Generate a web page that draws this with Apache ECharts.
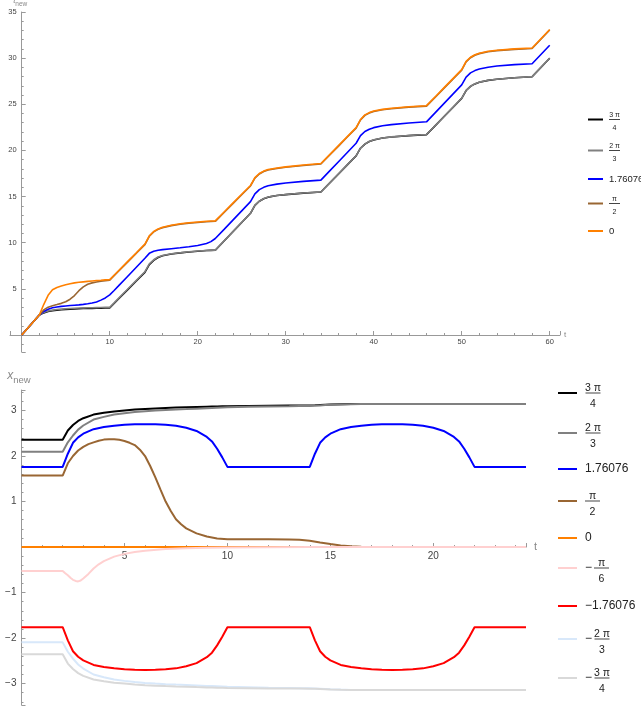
<!DOCTYPE html>
<html><head><meta charset="utf-8">
<script src="https://cdn.jsdelivr.net/npm/echarts@6/dist/echarts.min.js"></script>
<style>html,body{margin:0;padding:0;background:#fff}#c{width:641px;height:710px}</style>
</head><body><div id="c"></div>
<script>
// ---------- Top panel data: t_new vs t ----------
const tTop = [0,1,2,2.5,3,3.5,4,4.5,5,5.5,6,6.5,7,7.5,8,8.5,9,9.5,10,10.5,11,12,13,14,14.5,15,15.5,16,17,18,19,20,21,21.5,22,23,24,25,26,26.5,27,27.5,28,29,30,32,34,35,36,37,38,38.5,39,39.5,40,41,42,44,46,47,48,49,50,50.5,51,51.5,52,53,54,56,58,59,60];
const topBlack = [0,1.08,2.16,2.4,2.54,2.63,2.69,2.74,2.78,2.81,2.83,2.85,2.87,2.88,2.89,2.9,2.91,2.92,2.93,3.41,3.9,4.86,5.83,6.79,7.63,8.09,8.4,8.58,8.77,8.9,9.0,9.08,9.15,9.17,9.19,10.19,11.19,12.19,13.19,14.04,14.49,14.77,14.94,15.11,15.21,15.37,15.49,16.47,17.45,18.43,19.41,20.24,20.69,20.97,21.14,21.34,21.46,21.61,21.71,22.69,23.67,24.65,25.64,26.49,26.94,27.21,27.39,27.59,27.71,27.87,27.99,28.99,29.99];
const topGray = [0,1.08,2.16,2.45,2.6,2.7,2.76,2.81,2.85,2.88,2.9,2.92,2.94,2.95,2.96,2.97,2.98,2.99,3.0,3.48,3.97,4.93,5.9,6.86,7.7,8.15,8.45,8.62,8.8,8.92,9.02,9.1,9.16,9.18,9.2,10.2,11.2,12.2,13.2,14.05,14.5,14.78,14.95,15.12,15.22,15.38,15.5,16.48,17.46,18.44,19.42,20.25,20.7,20.98,21.15,21.35,21.47,21.62,21.72,22.7,23.68,24.66,25.65,26.5,26.95,27.22,27.4,27.6,27.72,27.88,28.0,29.0,30.0];
const topBlue = [0,1.08,2.16,2.55,2.8,2.95,3.03,3.1,3.15,3.19,3.23,3.27,3.32,3.38,3.46,3.58,3.78,4.02,4.35,4.83,5.32,6.32,7.32,8.32,8.85,9.07,9.18,9.25,9.35,9.45,9.56,9.7,9.92,10.12,10.46,11.45,12.45,13.45,14.45,15.3,15.75,16.0,16.17,16.35,16.48,16.65,16.78,17.78,18.78,19.78,20.78,21.6,22.05,22.3,22.47,22.68,22.8,22.98,23.1,24.1,25.1,26.1,27.1,27.95,28.4,28.65,28.82,29.02,29.15,29.3,29.4,30.4,31.4];
const topBrown = [0,1.08,2.16,2.72,3.02,3.18,3.3,3.43,3.6,3.88,4.28,4.8,5.22,5.5,5.65,5.75,5.83,5.89,5.94,6.43,6.91,7.87,8.83,9.8,10.7,11.17,11.45,11.63,11.85,12.01,12.12,12.2,12.27,12.3,12.32,13.28,14.24,15.2,16.15,17.0,17.45,17.71,17.88,18.05,18.17,18.37,18.53,19.5,20.47,21.45,22.42,23.3,23.8,24.05,24.22,24.4,24.52,24.69,24.8,25.77,26.75,27.73,28.7,29.6,30.05,30.32,30.49,30.69,30.81,30.95,31.05,32.05,33.05];
const topOrange = [0,1.08,2.16,3.3,4.3,4.9,5.15,5.32,5.45,5.56,5.65,5.71,5.76,5.81,5.86,5.9,5.93,5.97,6.0,6.48,6.96,7.92,8.88,9.85,10.75,11.22,11.5,11.68,11.9,12.06,12.17,12.25,12.32,12.35,12.37,13.33,14.29,15.25,16.2,17.05,17.5,17.76,17.93,18.1,18.22,18.42,18.58,19.55,20.52,21.5,22.47,23.35,23.85,24.1,24.27,24.45,24.57,24.74,24.85,25.82,26.8,27.78,28.75,29.65,30.1,30.37,30.54,30.74,30.86,31.0,31.1,32.1,33.1];
const topLabels = ['3π/4','2π/3','1.76076','π/2','0'];

// ---------- Bottom panel data: x_new vs t ----------
const tBot = [0,1,2,2.25,2.5,2.75,3,3.5,4,4.5,5,5.5,6,6.5,7,7.5,8,8.5,9,9.25,9.5,9.75,10,11,12,13,13.5,14,14.25,14.5,14.75,15,15.5,16,16.5,17,17.5,18,18.5,19,19.5,20,20.5,21,21.25,21.5,21.75,22,23,24,24.5];
const botBlack = [2.356,2.356,2.356,2.56,2.68,2.77,2.83,2.91,2.95,2.98,3.0,3.02,3.035,3.045,3.055,3.063,3.07,3.077,3.083,3.086,3.089,3.092,3.095,3.1,3.105,3.108,3.11,3.112,3.115,3.12,3.125,3.13,3.136,3.14,3.1416,3.1416,3.1416,3.1416,3.1416,3.1416,3.1416,3.1416,3.1416,3.1416,3.1416,3.1416,3.1416,3.1416,3.1416,3.1416,3.1416];
const botGray = [2.094,2.094,2.094,2.3,2.45,2.58,2.67,2.8,2.86,2.91,2.94,2.965,2.985,3.0,3.012,3.022,3.03,3.04,3.05,3.055,3.06,3.065,3.07,3.08,3.09,3.095,3.1,3.103,3.107,3.112,3.118,3.124,3.132,3.138,3.141,3.1416,3.1416,3.1416,3.1416,3.1416,3.1416,3.1416,3.1416,3.1416,3.1416,3.1416,3.1416,3.1416,3.1416,3.1416,3.1416];
const botBlue = [1.761,1.761,1.761,2.05,2.29,2.41,2.49,2.59,2.635,2.665,2.685,2.695,2.7,2.695,2.685,2.665,2.62,2.55,2.42,2.32,2.16,1.97,1.761,1.761,1.761,1.761,1.761,1.761,2.05,2.29,2.41,2.49,2.59,2.635,2.665,2.685,2.695,2.7,2.695,2.685,2.665,2.62,2.55,2.42,2.32,2.16,1.97,1.761,1.761,1.761,1.761];
const botOrange = [0,0,0,0,0,0,0,0,0,0,0,0,0,0,0,0,0,0,0,0,0,0,0,0,0,0,0,0,0,0,0,0,0,0,0,0,0,0,0,0,0,0,0,0,0,0,0,0,0,0,0];
const botRed = [-1.761,-1.761,-1.761,-2.05,-2.29,-2.41,-2.49,-2.59,-2.635,-2.665,-2.685,-2.695,-2.7,-2.695,-2.685,-2.665,-2.62,-2.55,-2.42,-2.32,-2.16,-1.97,-1.761,-1.761,-1.761,-1.761,-1.761,-1.761,-2.05,-2.29,-2.41,-2.49,-2.59,-2.635,-2.665,-2.685,-2.695,-2.7,-2.695,-2.685,-2.665,-2.62,-2.55,-2.42,-2.32,-2.16,-1.97,-1.761,-1.761,-1.761,-1.761];
const botLightBlue = [-2.094,-2.094,-2.094,-2.3,-2.45,-2.58,-2.67,-2.8,-2.86,-2.91,-2.94,-2.965,-2.985,-3.0,-3.012,-3.022,-3.03,-3.04,-3.05,-3.055,-3.06,-3.065,-3.07,-3.08,-3.09,-3.095,-3.1,-3.103,-3.107,-3.112,-3.118,-3.124,-3.132,-3.138,-3.141,-3.1416,-3.1416,-3.1416,-3.1416,-3.1416,-3.1416,-3.1416,-3.1416,-3.1416,-3.1416,-3.1416,-3.1416,-3.1416,-3.1416,-3.1416,-3.1416];
const botLightGray = [-2.356,-2.356,-2.356,-2.56,-2.68,-2.77,-2.83,-2.91,-2.95,-2.98,-3.0,-3.02,-3.035,-3.045,-3.055,-3.063,-3.07,-3.077,-3.083,-3.086,-3.089,-3.092,-3.095,-3.1,-3.105,-3.108,-3.11,-3.112,-3.115,-3.12,-3.125,-3.13,-3.136,-3.14,-3.1416,-3.1416,-3.1416,-3.1416,-3.1416,-3.1416,-3.1416,-3.1416,-3.1416,-3.1416,-3.1416,-3.1416,-3.1416,-3.1416,-3.1416,-3.1416,-3.1416];
// brown (π/2) and pink (−π/6) are sampled more densely where they bend
const tBrown = [0,2,2.25,2.5,2.75,3,3.25,3.5,3.75,4,4.25,4.5,4.75,5,5.25,5.5,5.75,6,6.25,6.5,6.75,7,7.25,7.5,7.75,8,8.5,9,9.5,10,11,12,13,13.5,14,14.5,15,15.5,16,16.5,17,24.5];
const botBrown = [1.571,1.571,1.84,2.0,2.12,2.2,2.26,2.3,2.335,2.36,2.37,2.37,2.355,2.33,2.29,2.24,2.14,2.0,1.78,1.53,1.26,1.0,0.79,0.61,0.5,0.41,0.3,0.23,0.19,0.17,0.17,0.17,0.168,0.16,0.14,0.1,0.065,0.035,0.015,0.005,0,0];
const tPink = [0,2,2.125,2.25,2.375,2.5,2.625,2.75,2.875,3,3.25,3.5,3.75,4,4.5,5,5.5,6,7,8,9,10,12,14,24.5];
const botPink = [-0.524,-0.524,-0.575,-0.62,-0.675,-0.72,-0.745,-0.755,-0.735,-0.69,-0.59,-0.47,-0.38,-0.31,-0.21,-0.15,-0.11,-0.08,-0.045,-0.027,-0.015,-0.009,-0.004,0,0];
const botLabels = ['3π/4','2π/3','1.76076','π/2','0','−π/6','−1.76076','−2π/3','−3π/4'];

// ---------- styles / layout ----------
const FONT = 'Liberation Sans, Arial, sans-serif';
const topColors = ['#000000','#808080','#0000ff','#996633','#ff8000'];
const botColors = ['#000000','#808080','#0000ff','#996633','#ff8000','#ffd0d0','#ff0000','#d8e8fa','#d9d9d9'];
const topSets = [topBlack, topGray, topBlue, topBrown, topOrange];
const botSets = [[tBot, botBlack], [tBot, botGray], [tBot, botBlue], [tBrown, botBrown], [tBot, botOrange],
                 [tPink, botPink], [tBot, botRed], [tBot, botLightBlue], [tBot, botLightGray]];
const topLegendY = [119, 150, 178, 203, 230];
const botLegendY = [392, 432, 468, 500, 537, 567, 605, 638, 677];

const G1 = {left: 10, top: 12, width: 550, height: 340};
const G2 = {left: 21.5, top: 390, width: 504.5, height: 315};
const X1 = [-1.33, 61.17], Y1 = [-1.84, 35];
const X2 = [0, 24.5], Y2 = [-3.47, 3.45];
// offsets that put each axis on the other axis' zero
const offX1 = -(0 - Y1[0]) / (Y1[1] - Y1[0]) * G1.height;
const offY1 = -(0 - X1[0]) / (X1[1] - X1[0]) * G1.width;
const offX2 = -(0 - Y2[0]) / (Y2[1] - Y2[0]) * G2.height;

function richLabel(label) {
  const m = label.match(/^(−?)(\d*)π\/(\d+)$/);
  if (!m) return '{t|' + label + '}';
  const num = m[2] ? m[2] + ' π' : 'π';
  if (m[1]) return '{z| }\n{ms| }{n|' + num + '}\n{m|−}{b| }\n{ms| }{d|' + m[3] + '}';
  return '{z| }\n{n|' + num + '}\n{b| }\n{d|' + m[3] + '}';
}
function isFrac(label) { return /π\//.test(label); }
function makeRich(p) {
  return {
    z: {fontSize: 1, lineHeight: p.L0},
    n: {fontSize: p.fn, lineHeight: p.L1, align: 'center', color: '#222', fontFamily: FONT},
    b: {width: p.W, height: 1, lineHeight: p.L2, backgroundColor: '#444', align: 'center', fontSize: 1},
    d: {fontSize: p.fn, lineHeight: p.L3, align: 'center', color: '#222', fontFamily: FONT},
    m: {fontSize: p.fs, width: p.Wm, lineHeight: p.L2, align: 'left', color: '#222', fontFamily: FONT},
    ms: {fontSize: 1, width: p.Wm, lineHeight: p.L1, align: 'left'},
    t: {fontSize: p.fs, lineHeight: 14, color: '#222', fontFamily: FONT}
  };
}
const topRichP = {fn: 7, fs: 9.5, W: 11, Wm: 7, L0: 8, L1: 7, L2: 2, L3: 15, fracShift: 4, singleShift: 3};
const botRichP = {fn: 10.5, fs: 12, W: 15, Wm: 9, L0: 13, L1: 7, L2: 2, L3: 20, fracShift: 7, singleShift: 2};

function legends(labels, colors, ys, prefix, left, iconW, p, padLeft) {
  const H = p.L0 + p.L1 + p.L2 + p.L3;
  return labels.map((lab, i) => ({
    orient: 'vertical', left: left,
    top: ys[i] - (isFrac(lab) ? H / 2 - p.fracShift : 7 - p.singleShift), padding: 0,
    itemWidth: iconW, itemHeight: 2, icon: 'rect', selectedMode: false,
    data: [{name: prefix + i, icon: 'rect', itemStyle: {color: colors[i]}}],
    formatter: () => richLabel(lab),
    textStyle: {rich: makeRich(p), padding: [0, 0, 0, padLeft], fontFamily: FONT, color: '#222'}
  }));
}

const series = [];
topSets.forEach((vals, i) => series.push({
  name: 'top' + i, type: 'line', xAxisIndex: 0, yAxisIndex: 0, symbol: 'none', showSymbol: false,
  lineStyle: {width: 1.6, color: topColors[i]}, itemStyle: {color: topColors[i]},
  data: tTop.map((t, k) => [t, vals[k]]), animation: false, silent: true
}));
botSets.forEach(([ts, vals], i) => series.push({
  name: 'bot' + i, type: 'line', xAxisIndex: 1, yAxisIndex: 1, symbol: 'none', showSymbol: false,
  lineStyle: {width: 2, color: botColors[i]}, itemStyle: {color: botColors[i]},
  data: ts.map((t, k) => [t, vals[k]]), animation: false, silent: true
}));

const axisCol = '#999';
function axisCommon(fs, labelFmt, margin) {
  return {
    type: 'value', splitLine: {show: false},
    axisLine: {show: true, onZero: false, lineStyle: {color: axisCol, width: 1}},
    axisTick: {show: true, inside: true, length: 4, lineStyle: {color: axisCol}},
    minorTick: {show: true, splitNumber: 5, length: 2, lineStyle: {color: axisCol}},
    axisLabel: {formatter: labelFmt, fontSize: fs, color: '#444', fontFamily: FONT, margin: margin, showMinLabel: true, showMaxLabel: true, hideOverlap: false},
  };
}
const fmtTopX = v => (v > 0 && Math.abs(v % 10) < 1e-9) ? String(v) : '';
const fmtTopY = v => (v > 0 && Math.abs(v % 5) < 1e-9) ? String(v) : '';
const fmtBotX = v => (v > 0 && Math.abs(v % 5) < 1e-9) ? String(v) : '';
const fmtBotY = v => (v !== 0 && Math.abs(v - Math.round(v)) < 1e-9) ? String(Math.round(v)).replace('-', '−') : '';

const option = {
  animation: false,
  backgroundColor: '#fff',
  grid: [
    Object.assign({outerBoundsMode: 'none', containLabel: false}, G1),
    Object.assign({outerBoundsMode: 'none', containLabel: false}, G2)
  ],
  xAxis: [
    Object.assign(axisCommon(7.5, fmtTopX, 3), {gridIndex: 0, min: X1[0], max: X1[1], splitNumber: 6, position: 'bottom', offset: offX1,
      name: 't', nameLocation: 'end', nameGap: 4, nameTextStyle: {fontSize: 8, color: '#888', fontFamily: FONT}}),
    Object.assign(axisCommon(10, fmtBotX, 4), {gridIndex: 1, min: X2[0], max: X2[1], splitNumber: 5, position: 'bottom', offset: offX2,
      name: 't', nameLocation: 'end', nameGap: 8, nameTextStyle: {fontSize: 11, color: '#888', fontFamily: FONT}})
  ],
  yAxis: [
    Object.assign(axisCommon(7.5, fmtTopY, 5), {gridIndex: 0, min: Y1[0], max: Y1[1], splitNumber: 7, position: 'left', offset: offY1,
      name: '{v|t}{s|new}', nameLocation: 'end', nameGap: 2,
      nameTextStyle: {padding: [0, 3, 0, 0], rich: {
        v: {fontSize: 8, fontStyle: 'italic', color: '#888', fontFamily: FONT, verticalAlign: 'top', lineHeight: 11},
        s: {fontSize: 6.5, color: '#888', fontFamily: FONT, verticalAlign: 'bottom'}}}}),
    Object.assign(axisCommon(10, fmtBotY, 5), {gridIndex: 1, min: Y2[0], max: Y2[1], splitNumber: 7, position: 'left', offset: 0,
      name: '{v|x}{s|new}', nameLocation: 'end', nameGap: 5,
      nameTextStyle: {padding: [0, 5, 0, 0], rich: {
        v: {fontSize: 12, fontStyle: 'italic', color: '#888', fontFamily: FONT, verticalAlign: 'top', lineHeight: 15},
        s: {fontSize: 9.5, color: '#888', fontFamily: FONT, verticalAlign: 'bottom'}}}})
  ],
  legend: [].concat(
    legends(topLabels, topColors, topLegendY, 'top', 588, 15, topRichP, 1),
    legends(botLabels, botColors, botLegendY, 'bot', 558, 19, botRichP, 3)
  ),
  series: series
};
const chart = echarts.init(document.getElementById('c'), null, {renderer: 'canvas'});
chart.setOption(option);
</script>
</body></html>
